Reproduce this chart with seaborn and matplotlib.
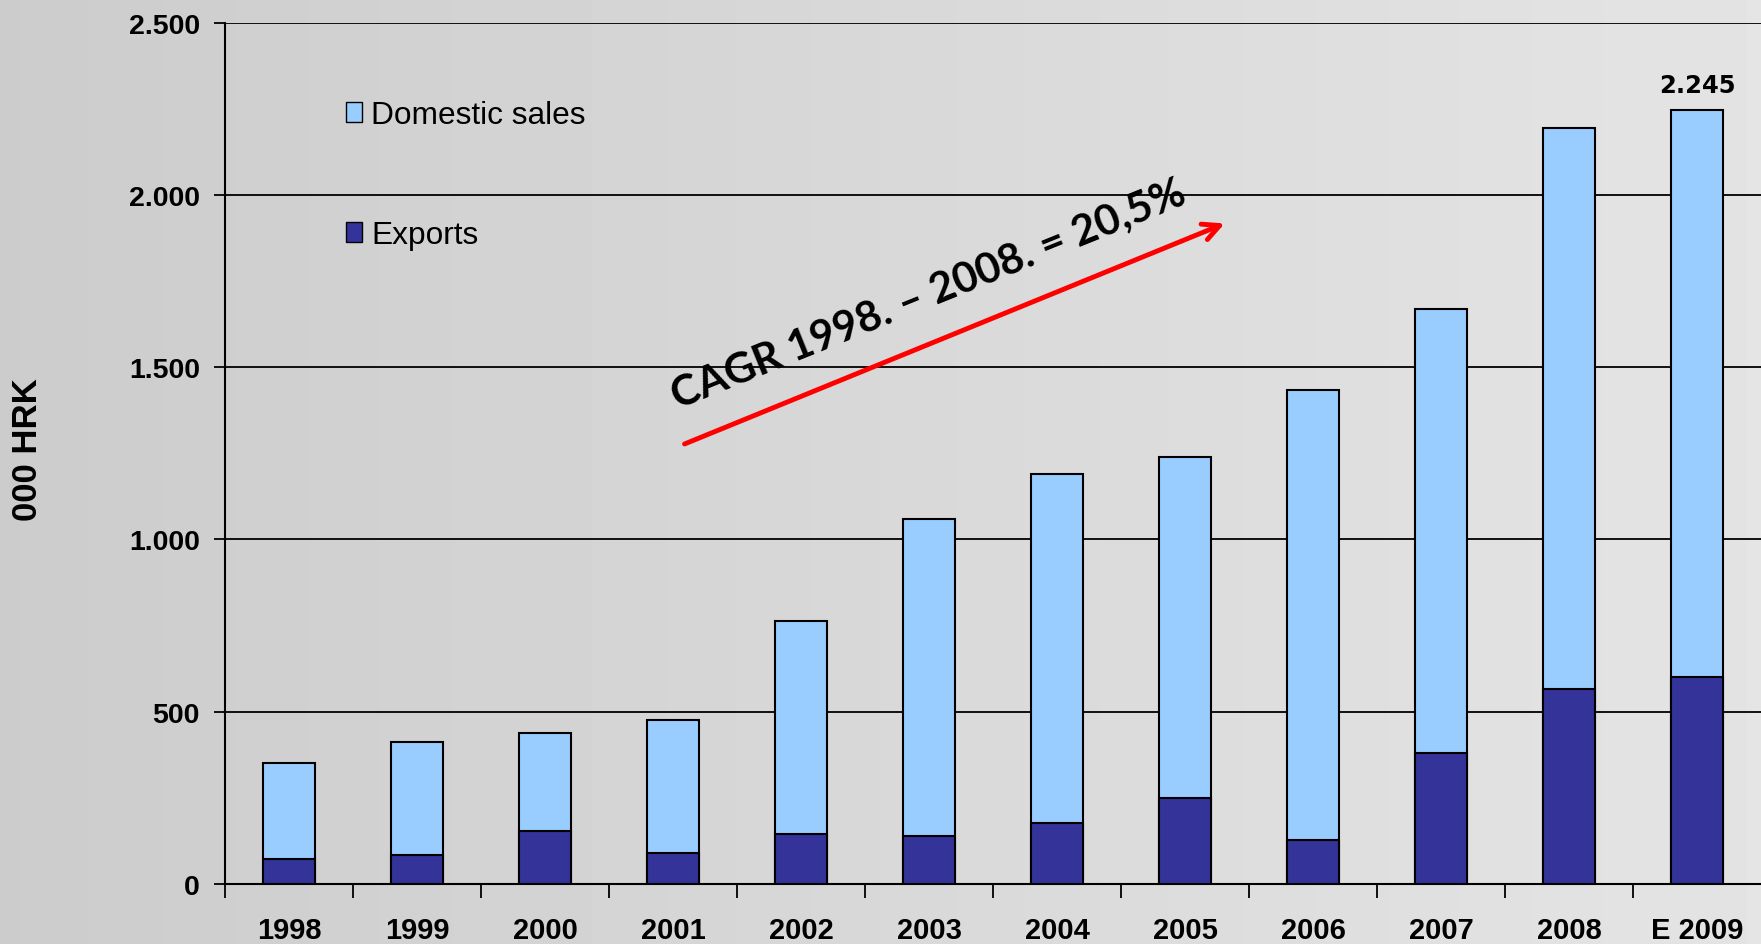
import numpy as np
import pandas as pd
import matplotlib
matplotlib.use("Agg")
import matplotlib.pyplot as plt
import seaborn as sns
from matplotlib.patches import Patch

# ---- data ----
years = ["1998", "1999", "2000", "2001", "2002", "2003", "2004", "2005",
         "2006", "2007", "2008", "E 2009"]
exports = [72, 83, 154, 89, 145, 139, 177, 249, 128, 380, 567, 600]
domestic = [279, 329, 285, 388, 618, 920, 1013, 990, 1306, 1289, 1627, 1645]
yticks = [0, 500, 1000, 1500, 2000, 2500]
ytick_labels = ["0", "500", "1.000", "1.500", "2.000", "2.500"]
total_label = "2.245"
cagr_text = "CAGR 1998. – 2008. = 20,5%"
series_names = ["Domestic sales", "Exports"]

sns.set_theme(style="white")
plt.rcParams['font.family'] = ['Liberation Sans', 'DejaVu Sans']
plt.rcParams['text.color'] = 'black'
plt.rcParams['xtick.color'] = 'black'
plt.rcParams['ytick.color'] = 'black'
plt.rcParams['axes.labelcolor'] = 'black'

fig = plt.figure(figsize=(17.61, 9.45), dpi=100)

# background gradient
bg = fig.add_axes([0, 0, 1, 1], zorder=-10)
grad = np.linspace(0.80, 0.895, 256)
bg.imshow(np.tile(grad, (2, 1)), cmap="gray", vmin=0, vmax=1, aspect="auto",
          extent=[0, 1, 0, 1])
bg.axis("off")

ax = fig.add_axes([225 / 1761, 60 / 945, 1 - 225 / 1761, (885 - 23.6) / 945])
ax.patch.set_alpha(0)

df = pd.DataFrame({"year": years,
                   "total": np.array(exports) + np.array(domestic),
                   "exports": exports})

sns.barplot(data=df, x="year", y="total", color="#99CCFF", edgecolor="black",
            linewidth=1.5, width=0.4, saturation=1, ax=ax, zorder=3)
sns.barplot(data=df, x="year", y="exports", color="#333399", edgecolor="black",
            linewidth=1.5, width=0.4, saturation=1, ax=ax, zorder=4)

ax.set_xlim(-0.5, 11.5)
ax.set_ylim(0, 2500)
ax.set_xlabel("")
ax.set_ylabel("")

ax.set_axisbelow(True)
ax.yaxis.grid(True, color="black", linewidth=1.3)
ax.xaxis.grid(False)

ax.set_yticks(yticks)
ax.set_yticklabels(ytick_labels, fontweight="bold", fontsize=20.5)
ax.tick_params(axis="y", left=True, length=8, width=1.3, pad=10,
               color="black", direction="out")

ax.set_xticks(np.arange(len(years)))
ax.set_xticklabels(years, fontweight="bold", fontsize=21)
ax.set_xticks(np.arange(-0.5, len(years) - 0.5, 1), minor=True)
ax.tick_params(axis="x", which="major", bottom=False, length=0, pad=23)
ax.tick_params(axis="x", which="minor", bottom=True, length=10, width=1.3,
               color="black", direction="out")

for s in ["top", "right"]:
    ax.spines[s].set_visible(False)
for s in ["left", "bottom"]:
    ax.spines[s].set_color("black")
    ax.spines[s].set_linewidth(1.5)

fig.text(28 / 1761, 1 - 450 / 945, "000 HRK", rotation=90, fontsize=25,
         fontweight="bold", ha="center", va="center")

totals = df["total"].values
ax.annotate(total_label, xy=(len(years) - 1, totals[-1]), xytext=(0, 10),
            textcoords="offset points", ha="center", va="bottom",
            fontsize=17.5, fontweight="bold", family=["DejaVu Sans"])

ax.annotate("", xy=(7.33, 1920), xytext=(3.07, 1274),
            arrowprops=dict(arrowstyle="->", color="red", lw=3.5,
                            mutation_scale=30))
ax.text(5.0, 1712, cagr_text, rotation=22, rotation_mode="anchor",
        ha="center", va="center", fontsize=30.5, fontweight="bold",
        family=["Lato", "DejaVu Sans"])

handles = [Patch(facecolor="#99CCFF", edgecolor="black", label=series_names[0]),
           Patch(facecolor="#333399", edgecolor="black", label=series_names[1])]
fig.legend(handles=handles, loc="upper left", bbox_to_anchor=(0.1965, 0.8934),
           frameon=False, fontsize=22.8, labelspacing=2.85, handlelength=0.5,
           handleheight=0.6, handletextpad=0.3, borderpad=0, borderaxespad=0)

fig.savefig("out.png", dpi=100)
